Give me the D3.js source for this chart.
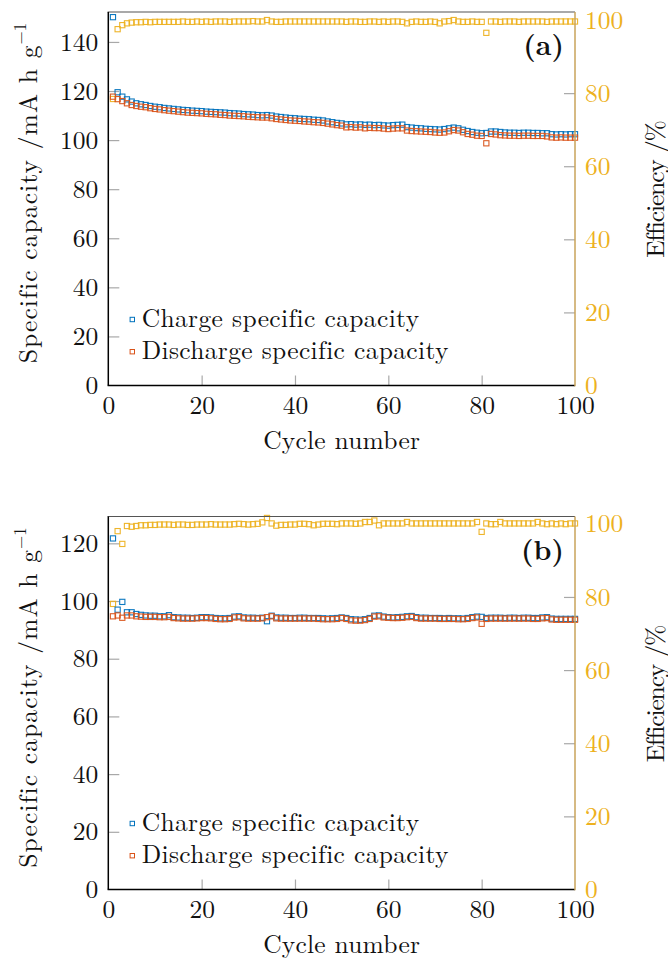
<!DOCTYPE html>
<html><head><meta charset="utf-8">
<script src="https://cdn.jsdelivr.net/npm/d3@7"></script>
</head><body style="margin:0;background:#fff">
<svg id="c" width="668" height="959"></svg>
<script>
const cycles = d3.range(1, 101);
const xTicks = [0, 20, 40, 60, 80, 100];
const effTicks = [0, 20, 40, 60, 80, 100];
const capTicksA = [0, 20, 40, 60, 80, 100, 120, 140];
const capTicksB = [0, 20, 40, 60, 80, 100, 120];
const seriesNames = ["Charge specific capacity", "Discharge specific capacity"];
const panelLabels = ["(a)", "(b)"];
const xTitle = "Cycle number";
const yTitleMain = "Specific capacity /mA h g";
const yTitleSup = "\u22121";
const y2Title = "Efficiency /%";

const chargeA = [150.1,119.5,117.7,116.6,115.7,115.0,114.6,114.3,113.9,113.6,
113.4,113.1,112.9,112.7,112.5,112.3,112.2,112.0,111.9,111.8,
111.6,111.5,111.4,111.3,111.2,111.0,110.9,110.8,110.6,110.5,
110.4,110.2,110.1,110.2,110.0,109.6,109.4,109.2,109.0,108.9,
108.7,108.6,108.5,108.3,108.2,108.0,107.6,107.3,107.0,106.8,
106.4,106.5,106.3,106.4,106.2,106.3,106.1,106.2,106.0,105.9,
106.1,106.2,106.3,105.3,105.1,104.9,104.8,104.6,104.5,104.4,
104.3,104.5,104.8,105.1,104.8,104.2,103.7,103.3,103.0,102.8,
102.9,103.5,103.5,103.3,103.1,103.0,103.0,102.9,103.0,103.0,
102.9,102.9,102.8,102.8,102.4,102.3,102.4,102.3,102.4,102.4];
const dischargeA = [117.7,116.7,115.9,115.0,114.3,113.9,113.6,113.4,113.0,112.7,
112.5,112.2,112.0,111.8,111.6,111.4,111.2,111.1,111.0,110.9,
110.7,110.6,110.5,110.3,110.2,110.0,109.9,109.8,109.7,109.5,
109.4,109.3,109.2,109.2,108.9,108.6,108.4,108.2,108.0,107.9,
107.8,107.6,107.5,107.3,107.2,107.0,106.7,106.4,106.1,105.9,
105.2,105.3,105.1,105.2,104.8,105.0,104.9,104.9,104.7,104.5,
104.7,104.8,104.8,103.9,103.7,103.6,103.5,103.4,103.3,103.1,
103.0,103.1,103.6,104.1,103.9,103.2,102.5,102.2,101.8,101.7,
98.7,102.5,102.3,102.0,101.9,101.8,101.8,101.7,101.8,101.8,
101.7,101.7,101.7,101.5,101.1,101.0,101.1,101.0,101.0,101.0];
const effA = [78.4,97.5,98.6,99.1,99.3,99.4,99.4,99.5,99.4,99.5,
99.5,99.5,99.5,99.5,99.5,99.6,99.5,99.5,99.6,99.5,
99.6,99.5,99.6,99.6,99.6,99.5,99.6,99.6,99.6,99.6,
99.7,99.6,99.6,100.0,99.6,99.5,99.5,99.6,99.6,99.6,
99.6,99.6,99.6,99.6,99.6,99.6,99.6,99.6,99.6,99.6,
99.5,99.6,99.6,99.5,99.5,99.6,99.6,99.5,99.6,99.5,
99.6,99.6,99.5,99.1,99.5,99.6,99.5,99.5,99.6,99.5,
99.1,99.6,99.7,100.0,99.6,99.5,99.5,99.6,99.5,99.5,
96.5,99.6,99.6,99.5,99.6,99.6,99.6,99.5,99.6,99.6,
99.6,99.6,99.6,99.5,99.6,99.6,99.6,99.6,99.6,99.6];

const chargeB = [121.7,97.0,99.7,96.1,96.1,95.5,95.2,95.0,94.9,94.9,
94.7,94.7,95.1,94.4,94.3,94.2,94.2,94.1,94.2,94.4,
94.4,94.3,94.1,94.0,94.0,94.1,94.6,94.7,94.3,94.2,
94.2,94.1,94.2,93.0,94.9,94.3,94.2,94.2,94.1,94.1,
94.2,94.2,94.1,94.1,94.1,94.0,93.9,94.0,94.1,94.3,
94.1,93.7,93.6,93.5,93.7,94.1,94.9,95.0,94.6,94.4,
94.3,94.4,94.5,94.7,94.8,94.4,94.2,94.2,94.1,94.1,
94.1,94.0,94.1,94.0,94.0,93.9,94.1,94.4,94.6,94.5,
94.1,94.2,94.2,94.2,94.1,94.2,94.2,94.1,94.2,94.2,
94.1,94.1,94.3,94.4,93.9,93.8,93.8,93.8,93.8,93.8];
const dischargeB = [94.7,95.0,94.2,95.0,95.0,94.7,94.6,94.5,94.5,94.5,
94.4,94.4,94.5,94.1,94.0,93.9,93.9,93.9,94.0,94.1,
94.1,94.0,93.8,93.7,93.7,93.8,94.3,94.4,94.0,93.9,
93.9,93.9,94.0,94.4,94.7,94.0,93.9,93.9,93.9,93.9,
93.9,93.9,93.9,93.9,93.8,93.7,93.7,93.7,93.8,94.1,
93.8,93.3,93.2,93.2,93.4,93.8,94.6,94.7,94.3,94.2,
94.1,94.1,94.2,94.4,94.5,94.1,93.9,93.9,93.9,93.9,
93.8,93.8,93.8,93.8,93.7,93.7,93.8,94.1,94.3,92.1,
93.8,93.9,93.9,93.9,93.9,93.9,93.9,93.9,93.9,93.9,
93.8,93.8,94.0,94.1,93.6,93.5,93.5,93.5,93.5,93.5];
const effB = [78.1,98.0,94.5,99.4,99.2,99.4,99.6,99.6,99.7,99.7,
99.8,99.8,99.8,99.7,99.8,99.8,99.7,99.7,99.8,99.8,
99.8,99.9,99.8,99.8,99.8,99.8,99.9,100.0,99.9,99.8,
99.9,100.0,100.4,101.6,100.1,99.5,99.7,99.7,99.8,99.8,
100.0,100.0,99.9,99.6,99.8,100.0,100.0,100.0,99.9,100.1,
100.1,100.1,100.0,100.1,100.5,100.5,100.9,99.6,100.1,100.1,
100.1,100.1,100.1,100.5,100.1,100.1,100.1,100.1,100.1,100.1,
100.1,100.1,100.1,100.1,100.1,100.1,100.1,100.1,100.5,97.8,
100.1,99.9,99.9,100.5,100.1,100.1,100.1,100.1,100.1,100.1,
100.1,100.5,100.1,99.9,100.1,99.9,100.1,99.9,100.1,100.1];

const COL_CHARGE = "#0072BD", COL_DIS = "#D95319", COL_EFF = "#EDB120";
const COL_RAXIS = "#C9A35A", COL_TICK = "#a8a8a8";
const FS = 25.5;
const FONT = "'Latin Modern Roman', 'Liberation Serif', serif";

const svg = d3.select("#c");
const L = 108.3, R = 575;

function fit(sel, target) {
  const n = sel.text().length;
  const len = sel.node().getComputedTextLength();
  sel.attr("letter-spacing", ((target - len) / n).toFixed(2));
}
function txt(g) {
  return g.append("text").style("font-family", FONT).attr("fill", "#111");
}

function panel(cfg) {
  const g = svg.append("g");
  const x = d3.scaleLinear().domain([0, 100]).range([L, R]);
  const yL = d3.scaleLinear().domain([0, cfg.capMax]).range([cfg.bottom, cfg.top]);
  const yR = d3.scaleLinear().domain([0, cfg.effMax]).range([cfg.bottom, cfg.top]);

  const styleAxis = (ax, ends) => {
    ax.attr("font-size", FS).style("font-family", FONT);
    ax.selectAll("text").style("font-family", FONT);
    ax.select(".domain").remove();
    ax.selectAll(".tick line").attr("stroke", COL_TICK).attr("stroke-width", 1.2)
      .filter(d => ends.includes(d)).remove();
  };

  const gx = g.append("g").attr("transform", `translate(0,${cfg.bottom})`)
    .call(d3.axisBottom(x).tickValues(xTicks).tickSize(-10).tickSizeOuter(0).tickPadding(10).tickFormat(d3.format("d")));
  styleAxis(gx, [0, 100]);
  gx.selectAll(".tick text").attr("fill", "#111");

  const gl = g.append("g").attr("transform", `translate(${L},0)`)
    .call(d3.axisLeft(yL).tickValues(cfg.capTicks).tickSize(-11).tickSizeOuter(0).tickPadding(10).tickFormat(d3.format("d")));
  styleAxis(gl, [0]);
  gl.selectAll(".tick text").attr("fill", "#111");

  const gr = g.append("g").attr("transform", `translate(${R},0)`)
    .call(d3.axisRight(yR).tickValues(effTicks).tickSize(-11).tickSizeOuter(0).tickPadding(10).tickFormat(d3.format("d")));
  styleAxis(gr, [0, 100]);
  gr.selectAll(".tick text").attr("fill", COL_EFF);

  const S = 5.2;
  const marks = (data, scale, color) => {
    g.append("g").selectAll("rect").data(cycles).join("rect")
      .attr("x", d => x(d) - S / 2).attr("y", (d, i) => scale(data[i]) - S / 2)
      .attr("width", S).attr("height", S)
      .attr("fill", "none").attr("stroke", color).attr("stroke-width", 1.1).attr("stroke-opacity", 0.95);
  };
  marks(cfg.eff, yR, COL_EFF);
  marks(cfg.charge, yL, COL_CHARGE);
  marks(cfg.dis, yL, COL_DIS);

  // frame
  g.append("line").attr("x1", L - 0.7).attr("x2", R).attr("y1", cfg.top).attr("y2", cfg.top)
    .attr("stroke", "#555").attr("stroke-width", 1.2);
  g.append("line").attr("x1", L).attr("x2", L).attr("y1", cfg.top).attr("y2", cfg.bottom)
    .attr("stroke", "#000").attr("stroke-width", 1.5);
  g.append("line").attr("x1", L - 0.7).attr("x2", R).attr("y1", cfg.bottom).attr("y2", cfg.bottom)
    .attr("stroke", "#000").attr("stroke-width", 1.5);
  g.append("line").attr("x1", R).attr("x2", R).attr("y1", cfg.top).attr("y2", cfg.bottom + 0.7)
    .attr("stroke", COL_RAXIS).attr("stroke-width", 1.5);

  // panel label
  txt(g).attr("x", 564).attr("y", cfg.top + 43).attr("text-anchor", "end")
    .attr("font-size", 28).attr("font-weight", "bold").text(cfg.label);

  // legend
  const ly = [cfg.bottom - 66, cfg.bottom - 33.8];
  const lc = [COL_CHARGE, COL_DIS];
  const lw = [277, 306.5];
  seriesNames.forEach((name, i) => {
    g.append("rect").attr("x", 132.3 - 2.2).attr("y", ly[i] - 2.2).attr("width", 4.4).attr("height", 4.4)
      .attr("fill", "none").attr("stroke", lc[i]).attr("stroke-width", 1);
    const t = txt(g).attr("x", 141.7).attr("y", ly[i] + 7.5).attr("font-size", FS).text(name);
    fit(t, lw[i]);
  });

  // axis titles
  const xt = txt(g).attr("x", (L + R) / 2).attr("y", cfg.bottom + 63.5)
    .attr("text-anchor", "middle").attr("font-size", FS).text(xTitle);
  fit(xt, 157);

  const ytx = 37, yty = cfg.top + 181;
  const yt = txt(g).attr("transform", `translate(${ytx},${yty}) rotate(-90)`)
    .attr("text-anchor", "middle").attr("font-size", FS);
  const ym = yt.append("tspan").text(yTitleMain);
  yt.append("tspan").attr("font-size", 17).attr("dy", -11).text(yTitleSup);
  const full = yt.node().getComputedTextLength();
  ym.attr("letter-spacing", ((340 - full) / yTitleMain.length).toFixed(2));

  const y2 = txt(g).attr("transform", `translate(664,${cfg.top + 177.5}) rotate(-90)`)
    .attr("text-anchor", "middle").attr("font-size", FS).text(y2Title);
  fit(y2, 135);
}

panel({top: 12, bottom: 385.5, capMax: 152.2, effMax: 102.2, capTicks: capTicksA,
       charge: chargeA, dis: dischargeA, eff: effA, label: panelLabels[0]});
panel({top: 516.5, bottom: 889.5, capMax: 129.3, effMax: 102.0, capTicks: capTicksB,
       charge: chargeB, dis: dischargeB, eff: effB, label: panelLabels[1]});
</script>
</body></html>
